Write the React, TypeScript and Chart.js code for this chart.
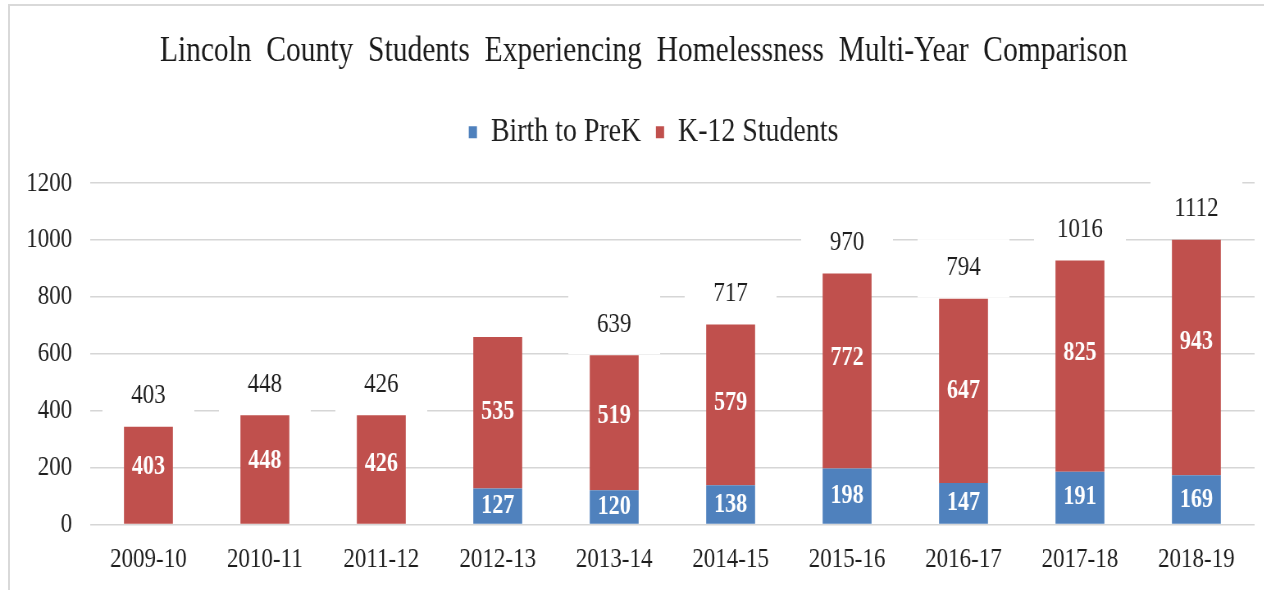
import React, { useEffect, useRef } from 'react';
import { Chart, registerables } from 'chart.js';

Chart.register(...registerables);

// ---------- data ----------
const categories = ['2009-10', '2010-11', '2011-12', '2012-13', '2013-14', '2014-15', '2015-16', '2016-17', '2017-18', '2018-19'];
// values printed on the chart
const preKLabels: (number | null)[] = [null, null, null, 127, 120, 138, 198, 147, 191, 169];
const k12Labels = [403, 448, 426, 535, 519, 579, 772, 647, 825, 943];
const totalLabels: (number | null)[] = [403, 448, 426, null, 639, 717, 970, 794, 1016, 1112];
// bar heights as drawn in the picture
const preKBars = [0, 0, 0, 126, 120, 138, 197, 146, 185, 173];
const k12Bars = [343, 384, 384, 533, 475, 565, 685, 648, 743, 828];
const yTickValues = [0, 200, 400, 600, 800, 1000, 1200];

const TITLE = 'Lincoln  County  Students  Experiencing  Homelessness  Multi-Year  Comparison';
const SERIES = ['Birth to PreK', 'K-12 Students'];
const BLUE = '#4F81BD';
const RED = '#C0504D';
const FONT = "'Liberation Serif', 'Times New Roman', serif";
const SX = 0.82;
const W = 1570;
const H = 608;
const Y_PAD = 22;

const shiftPlugin = {
  id: 'shiftBlocks',
  afterLayout(chart: any) {
    if (chart.legend) {
      chart.legend.left += 16;
      chart.legend.right += 16;
    }
    if (chart.titleBlock) {
      chart.titleBlock.left += 4;
      chart.titleBlock.right += 4;
    }
  },
};

const labelPlugin = {
  id: 'valueLabels',
  beforeDatasetsDraw(chart: any) {
    const ctx = chart.ctx;
    const meta = chart.getDatasetMeta(1);
    ctx.save();
    ctx.fillStyle = '#ffffff';
    totalLabels.forEach((t, i) => {
      if (t == null) return;
      const bar = meta.data[i];
      const cy = bar.y - 31;
      ctx.fillRect(bar.x - 56, cy - 28.5, 112, 58.5);
    });
    ctx.restore();
  },
  afterDatasetsDraw(chart: any) {
    const ctx = chart.ctx;
    const y = chart.scales.y;
    const meta = chart.getDatasetMeta(1);
    ctx.save();
    ctx.textAlign = 'center';
    ctx.textBaseline = 'middle';
    categories.forEach((_, i) => {
      const bar = meta.data[i];
      const p = preKLabels[i] ?? 0;
      ctx.fillStyle = '#ffffff';
      ctx.font = `bold 27px ${FONT}`;
      if (preKLabels[i] != null) {
        ctx.fillText(String(preKLabels[i]), bar.x, y.getPixelForValue(p / 2));
      }
      ctx.fillText(String(k12Labels[i]), bar.x, y.getPixelForValue(p + k12Labels[i] / 2));
      const t = totalLabels[i];
      if (t != null) {
        ctx.fillStyle = '#1e1e1e';
        ctx.font = `28px ${FONT}`;
        ctx.fillText(String(t), bar.x, bar.y - 31);
      }
    });
    ctx.restore();
  },
};

export default function App() {
  const ref = useRef<HTMLCanvasElement>(null);
  useEffect(() => {
    if (!ref.current) return;
    const chart = new Chart(ref.current, {
      type: 'bar',
      data: {
        labels: categories,
        datasets: [
          { label: SERIES[0], data: preKBars, backgroundColor: BLUE, borderWidth: 0 },
          { label: SERIES[1], data: k12Bars, backgroundColor: RED, borderWidth: 0 },
        ],
      },
      options: {
        animation: false,
        responsive: false,
        devicePixelRatio: 1,
        layout: { padding: { left: 32, right: 40, top: 0, bottom: 14 } },
        datasets: { bar: { barPercentage: 0.42, categoryPercentage: 1 } },
        plugins: {
          title: {
            display: true,
            text: TITLE,
            color: '#1a1a1a',
            font: { family: FONT, size: 36, weight: 'normal', lineHeight: 1.2 },
            padding: { top: 30, bottom: 24 },
          },
          subtitle: {
            display: true,
            text: '',
            weight: 500,
            font: { size: 10, lineHeight: 1 },
            padding: { top: 0, bottom: 14 },
          } as any,
          legend: {
            display: true,
            position: 'top',
            labels: {
              color: '#1e1e1e',
              font: { family: FONT, size: 34 },
              boxWidth: 10,
              boxHeight: 12,
              padding: 18,
            },
          },
          tooltip: { enabled: false },
        },
        scales: {
          x: {
            stacked: true,
            grid: { display: false, drawTicks: false },
            border: { display: false },
            ticks: { color: '#1e1e1e', font: { family: FONT, size: 28 }, padding: 18 },
          },
          y: {
            stacked: true,
            min: 0,
            max: 1200,
            afterBuildTicks: (scale: any) => {
              scale.ticks = yTickValues.map((v) => ({ value: v }));
            },
            afterFit: (scale: any) => {
              scale.width = scale.width - Y_PAD;
            },
            grid: { color: '#d6d6d6', lineWidth: 1.5, drawTicks: false },
            border: { display: false },
            ticks: {
              color: '#1e1e1e',
              font: { family: FONT, size: 28 },
              padding: Y_PAD,
              callback: (v: any) => String(v),
            },
          },
        },
      },
      plugins: [shiftPlugin, labelPlugin],
    });
    return () => chart.destroy();
  }, []);

  return (
    <div style={{ position: 'absolute', left: 0, top: 0, width: 1264, height: 590, overflow: 'hidden', background: '#fff' }}>
      <div
        style={{
          position: 'absolute',
          left: 8,
          top: 4,
          width: 1400,
          height: 700,
          borderTop: '2px solid #d9d9d9',
          borderLeft: '2px solid #d9d9d9',
        }}
      />
      <canvas
        ref={ref}
        width={W}
        height={H}
        style={{ position: 'absolute', left: 0, top: 0, width: W, height: H, transform: `scaleX(${SX})`, transformOrigin: '0 0' }}
      />
    </div>
  );
}
